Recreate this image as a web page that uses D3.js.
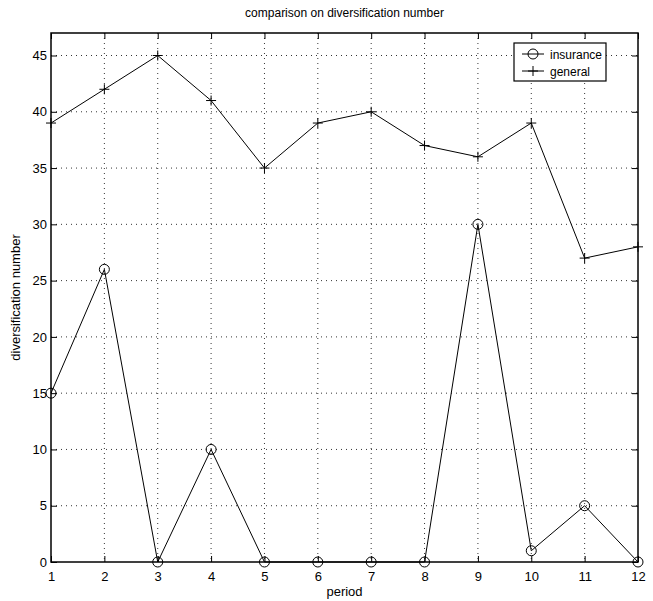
<!DOCTYPE html>
<html>
<head>
<meta charset="utf-8">
<script src="https://cdn.jsdelivr.net/npm/d3@7"></script>
<style>
  body { margin: 0; background: #fff; }
  svg { display: block; font-family: "Liberation Sans", Arial, sans-serif; }
</style>
</head>
<body>
<div id="chart"></div>
<script>
    let periods = [1, 2, 3, 4, 5, 6, 7, 8, 9, 10, 11, 12];
    let insurance = [15, 26, 0, 10, 0, 0, 0, 0, 30, 1, 5, 0];
    let general = [39, 42, 45, 41, 35, 39, 40, 37, 36, 39, 27, 28];
    let yTicks = [0, 5, 10, 15, 20, 25, 30, 35, 40, 45];

    let W = 653, H = 601;
    let margin = {top: 33, right: 15, bottom: 39, left: 51},
        width = W - margin.left - margin.right,
        height = H - margin.top - margin.bottom;

    let svg = d3.select("#chart")
      .append("svg")
        .attr("width", W)
        .attr("height", H);

    let g = svg.append("g")
        .attr("transform", "translate(" + margin.left + "," + margin.top + ")");

    let x = d3.scaleLinear().domain([1, 12]).range([0, width]);
    let y = d3.scaleLinear().domain([0, 47]).range([height, 0]);

    // dotted grid
    g.selectAll(".vgrid")
        .data(periods.slice(1, -1))
        .enter().append("line")
        .attr("x1", d => x(d)).attr("x2", d => x(d))
        .attr("y1", 0).attr("y2", height)
        .attr("stroke", "#000").attr("stroke-width", 0.8)
        .attr("stroke-dasharray", "1,4");

    g.selectAll(".hgrid")
        .data(yTicks.slice(1))
        .enter().append("line")
        .attr("x1", 0).attr("x2", width)
        .attr("y1", d => y(d)).attr("y2", d => y(d))
        .attr("stroke", "#000").attr("stroke-width", 0.8)
        .attr("stroke-dasharray", "1,4");

    // axes with inward ticks on all four sides
    g.append("g")
        .attr("transform", "translate(0," + height + ")")
        .call(d3.axisBottom(x).tickValues(periods).tickSizeInner(-6).tickSizeOuter(0).tickPadding(10));
    g.append("g")
        .call(d3.axisLeft(y).tickValues(yTicks).tickSizeInner(-6).tickSizeOuter(0).tickPadding(4));
    g.append("g")
        .call(d3.axisTop(x).tickValues(periods).tickSizeInner(-6).tickSizeOuter(0).tickFormat(""));
    g.append("g")
        .attr("transform", "translate(" + width + ",0)")
        .call(d3.axisRight(y).tickValues(yTicks).tickSizeInner(-6).tickSizeOuter(0).tickFormat(""));

    g.selectAll(".domain").remove();
    g.selectAll(".tick text")
        .attr("font-size", "13px")
        .attr("font-family", "Liberation Sans, Arial, sans-serif")
        .attr("fill", "#000");

    g.append("rect")
        .attr("width", width).attr("height", height)
        .attr("fill", "none").attr("stroke", "#000").attr("stroke-width", 1.5);

    // lines
    let line = d3.line()
        .x((d, i) => x(periods[i]))
        .y(d => y(d));

    g.append("path").datum(insurance)
        .attr("d", line).attr("fill", "none").attr("stroke", "#000").attr("stroke-width", 1);
    g.append("path").datum(general)
        .attr("d", line).attr("fill", "none").attr("stroke", "#000").attr("stroke-width", 1);

    g.selectAll(".circ")
        .data(insurance)
        .enter().append("circle")
        .attr("cx", (d, i) => x(periods[i]))
        .attr("cy", d => y(d))
        .attr("r", 5)
        .attr("fill", "none").attr("stroke", "#000").attr("stroke-width", 1);

    g.selectAll(".plus")
        .data(general)
        .enter().append("path")
        .attr("transform", (d, i) => "translate(" + x(periods[i]) + "," + y(d) + ")")
        .attr("d", "M-5,0H5M0,-5V5")
        .attr("fill", "none").attr("stroke", "#000").attr("stroke-width", 1);

    // title and labels
    svg.append("text")
        .attr("x", margin.left + width / 2).attr("y", 17)
        .attr("text-anchor", "middle").attr("font-size", "12px")
        .text("comparison on diversification number");

    svg.append("text")
        .attr("x", margin.left + width / 2).attr("y", 596)
        .attr("text-anchor", "middle").attr("font-size", "13px")
        .text("period");

    svg.append("text")
        .attr("transform", "translate(20," + (margin.top + height / 2) + ") rotate(-90)")
        .attr("text-anchor", "middle").attr("font-size", "13px")
        .text("diversification number");

    // legend
    let legend = svg.append("g").attr("transform", "translate(514,43)");
    legend.append("rect")
        .attr("width", 92).attr("height", 38)
        .attr("fill", "#fff").attr("stroke", "#000").attr("stroke-width", 1.2);
    let entries = [{name: "insurance", marker: "circle"}, {name: "general", marker: "plus"}];
    entries.forEach(function(e, i) {
        let cy = 11 + i * 17;
        legend.append("line")
            .attr("x1", 8).attr("x2", 30).attr("y1", cy).attr("y2", cy)
            .attr("stroke", "#000");
        if (e.marker == "circle") {
            legend.append("circle").attr("cx", 19).attr("cy", cy).attr("r", 5)
                .attr("fill", "none").attr("stroke", "#000");
        } else {
            legend.append("path").attr("transform", "translate(19," + cy + ")")
                .attr("d", "M-5,0H5M0,-5V5").attr("stroke", "#000");
        }
        legend.append("text")
            .attr("x", 36).attr("y", cy + 4.5)
            .attr("font-size", "12px")
            .text(e.name);
    });
</script>
</body>
</html>
